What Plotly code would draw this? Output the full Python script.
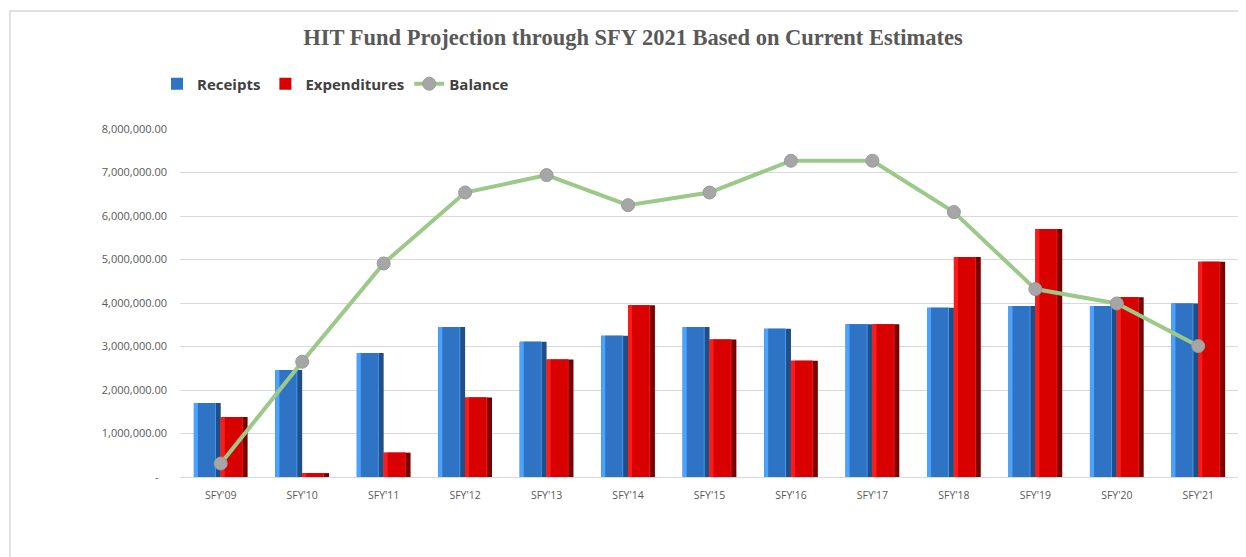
import plotly.graph_objects as go

categories = ["SFY'09", "SFY'10", "SFY'11", "SFY'12", "SFY'13", "SFY'14", "SFY'15",
              "SFY'16", "SFY'17", "SFY'18", "SFY'19", "SFY'20", "SFY'21"]
receipts = [1700000, 2460000, 2850000, 3450000, 3110000, 3250000, 3450000,
            3410000, 3510000, 3890000, 3930000, 3930000, 3990000]
expenditures = [1380000, 90000, 560000, 1830000, 2700000, 3950000, 3160000,
                2670000, 3510000, 5060000, 5700000, 4130000, 4950000]
balance = [310000, 2650000, 4910000, 6540000, 6940000, 6250000, 6540000,
           7270000, 7270000, 6090000, 4320000, 3990000, 3010000]

y_tickvals = [0, 1000000, 2000000, 3000000, 4000000, 5000000, 6000000, 7000000, 8000000]
y_ticktext = ["-\u00a0\u00a0\u00a0", "1,000,000.00", "2,000,000.00", "3,000,000.00", "4,000,000.00",
              "5,000,000.00", "6,000,000.00", "7,000,000.00", "8,000,000.00"]

W = 0.33  # bar width in category units

# page body has an 8px margin; the figure is sized/positioned to compensate
FW, FH = 1238, 549
L, R, T, B = 172, 7, 121, 80
PW, PH = FW - L - R, FH - T - B

fig = go.Figure()

def beveled(values, name, dark, light, main, off):
    fig.add_trace(go.Bar(x=categories, y=values, width=W, offset=off,
                         marker=dict(color=dark, line=dict(width=0)),
                         showlegend=False, hoverinfo="skip"))
    fig.add_trace(go.Bar(x=categories, y=values, width=W - 0.06, offset=off,
                         marker=dict(color=light, line=dict(width=0)),
                         showlegend=False, hoverinfo="skip"))
    fig.add_trace(go.Bar(x=categories, y=values, width=W - 0.12, offset=off + 0.05,
                         marker=dict(color=main, line=dict(width=0)),
                         name=name, showlegend=True))

beveled(receipts, "Receipts", "#1f4f86", "#4aa3ff", "#2e73c4", -W)
beveled(expenditures, "Expenditures", "#7a0000", "#ff1a1a", "#d90000", 0)

fig.add_trace(go.Scatter(x=categories, y=balance, mode="lines+markers", name="Balance",
                         line=dict(color="#9cc98a", width=4),
                         marker=dict(color="#a6a6a6", size=13,
                                     line=dict(color="#9a9a9a", width=1))))

fig.update_layout(
    width=FW, height=FH,
    barmode="overlay",
    paper_bgcolor="white", plot_bgcolor="white",
    margin=dict(l=L, r=R, t=T, b=B, autoexpand=False),
    title=dict(text="<b>HIT Fund Projection through SFY 2021 Based on Current Estimates</b>",
               x=625 / FW, xanchor="center", xref="container",
               y=1 - 29 / FH, yanchor="middle", yref="container",
               font=dict(family="Liberation Serif, serif", size=22.5, color="#595959")),
    legend=dict(orientation="h", x=(149 - L) / PW, xanchor="left", y=(469 - 76) / PH, yanchor="middle",
                font=dict(family="Open Sans, sans-serif", size=15, color="#404040", weight="bold"),
                itemwidth=30, traceorder="normal", bgcolor="rgba(0,0,0,0)"),
    font=dict(family="Open Sans, sans-serif", color="#595959"),
    xaxis=dict(type="category", range=[-0.5, 12.5], autorange=False, showgrid=False,
               showline=True, linecolor="#d9d9d9", linewidth=1, automargin=False,
               ticks="", tickfont=dict(size=10.5, color="#595959"), ticklabelstandoff=8),
    yaxis=dict(range=[0, 8000000], autorange=False, tickvals=y_tickvals, ticktext=y_ticktext,
               showgrid=True, gridcolor="#d9d9d9", gridwidth=1, zeroline=False, automargin=False,
               ticks="", tickfont=dict(size=11, color="#595959"), ticklabelstandoff=12),
    shapes=[dict(type="rect", xref="paper", yref="paper",
                 x0=(2 - L) / PW, x1=(1250 - L) / PW,
                 y0=(469 - 560) / PH, y1=(469 - 3) / PH,
                 line=dict(color="#d9d9d9", width=1.5), fillcolor="rgba(0,0,0,0)", layer="below")],
)

fig.write_html("out.html")
